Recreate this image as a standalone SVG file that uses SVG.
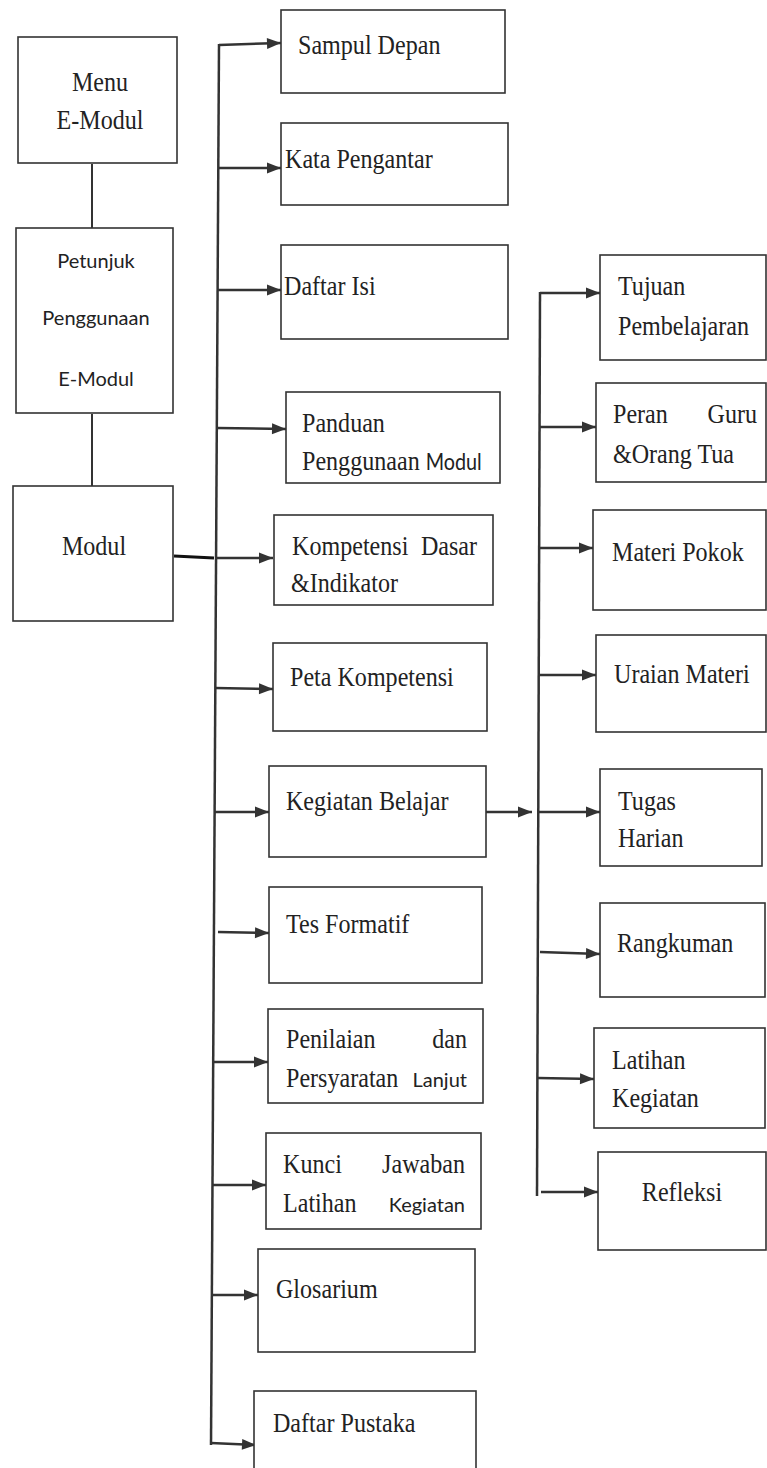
<svg xmlns="http://www.w3.org/2000/svg" width="767" height="1468" viewBox="0 0 767 1468">
<defs>
<marker id="ah" markerUnits="userSpaceOnUse" markerWidth="16" markerHeight="16" viewBox="0 0 16 16" refX="15" refY="8" orient="auto">
<path d="M1,2.5 L15,8 L1,13.5 Z" fill="#333"/>
</marker>
</defs>
<style>
rect{fill:#fff;stroke:#333;stroke-width:1.6}
text{font-family:"Liberation Serif","Times New Roman",serif;font-size:28px;fill:#222;transform-box:fill-box;transform-origin:left center;transform:scaleX(0.86)}
text.c{transform-origin:center}
text.e{transform-origin:right center}
text.s{font-family:Lato,"Liberation Sans",sans-serif;font-size:20px;transform:none}
tspan.s{font-family:Lato,"Liberation Sans",sans-serif;font-size:23px}
.c{text-anchor:middle}
.e{text-anchor:end}
#connectors line{stroke:#333;stroke-width:2.5;fill:none}
#connectors .a{marker-end:url(#ah)}
</style>
<rect x="0" y="0" width="767" height="1468" style="fill:#fff;stroke:none"/>
<g id="connectors">
<line x1="92" y1="164" x2="92" y2="228" style="stroke-width:2"/>
<line x1="92" y1="414" x2="92" y2="486" style="stroke-width:2"/>
<line x1="174" y1="556" x2="214" y2="558" style="stroke:#111;stroke-width:3"/>
<line x1="219" y1="44" x2="211" y2="1445"/>
<line class="a" x1="219" y1="45" x2="281" y2="43"/>
<line class="a" x1="219" y1="168" x2="281" y2="168"/>
<line class="a" x1="218" y1="290" x2="281" y2="290"/>
<line class="a" x1="217" y1="428" x2="286" y2="429"/>
<line class="a" x1="215" y1="558" x2="273" y2="558"/>
<line class="a" x1="215" y1="688" x2="273" y2="689"/>
<line class="a" x1="215" y1="812" x2="269" y2="812"/>
<line class="a" x1="218" y1="932" x2="269" y2="933"/>
<line class="a" x1="214" y1="1062" x2="268" y2="1062"/>
<line class="a" x1="213" y1="1185" x2="266" y2="1185"/>
<line class="a" x1="212" y1="1295" x2="258" y2="1295"/>
<line class="a" x1="211" y1="1443" x2="256" y2="1445"/>
<line class="a" x1="486" y1="812" x2="532" y2="812"/>
<line x1="540" y1="292" x2="537" y2="1196"/>
<line class="a" x1="540" y1="293" x2="600" y2="293"/>
<line class="a" x1="539" y1="427" x2="596" y2="427"/>
<line class="a" x1="539" y1="548" x2="593" y2="548"/>
<line class="a" x1="538" y1="675" x2="596" y2="675"/>
<line class="a" x1="538" y1="812" x2="600" y2="812"/>
<line class="a" x1="540" y1="952" x2="600" y2="954"/>
<line class="a" x1="538" y1="1078" x2="594" y2="1079"/>
<line class="a" x1="541" y1="1192" x2="598" y2="1192"/>
</g>
<g id="menu"><rect x="18" y="37" width="159" height="126"/><text class="c" x="100" y="91">Menu</text><text class="c" x="100" y="129">E-Modul</text></g>
<g id="petunjuk"><rect x="16" y="228" width="157" height="185"/><text class="s c" x="96" y="268">Petunjuk</text><text class="s c" x="96" y="325">Penggunaan</text><text class="s c" x="96" y="386">E-Modul</text></g>
<g id="modul"><rect x="13" y="486" width="160" height="135"/><text class="c" x="94" y="555">Modul</text></g>

<g id="sampul"><rect x="281" y="10" width="224" height="83"/><text x="298" y="54">Sampul Depan</text></g>
<g id="kata"><rect x="281" y="123" width="227" height="82"/><text x="285" y="168">Kata Pengantar</text></g>
<g id="daftarisi"><rect x="281" y="245" width="227" height="94"/><text x="284" y="295">Daftar Isi</text></g>
<g id="panduan"><rect x="286" y="392" width="214" height="91"/><text x="302" y="432">Panduan</text><text x="302" y="470">Penggunaan <tspan class="s">Modul</tspan></text></g>
<g id="kompetensi"><rect x="274" y="515" width="219" height="90"/><text x="292" y="555">Kompetensi</text><text class="e" x="477" y="555">Dasar</text><text x="291" y="592">&amp;Indikator</text></g>
<g id="peta"><rect x="273" y="643" width="214" height="88"/><text x="290" y="686">Peta Kompetensi</text></g>
<g id="kegiatan"><rect x="269" y="766" width="217" height="91"/><text x="286" y="810">Kegiatan Belajar</text></g>
<g id="tes"><rect x="269" y="887" width="213" height="96"/><text x="286" y="933">Tes Formatif</text></g>
<g id="penilaian"><rect x="268" y="1009" width="215" height="94"/><text x="286" y="1048">Penilaian</text><text class="e" x="467" y="1048">dan</text><text x="286" y="1087">Persyaratan</text><text class="s e" x="467" y="1087">Lanjut</text></g>
<g id="kunci"><rect x="266" y="1133" width="215" height="96"/><text x="283" y="1173">Kunci</text><text class="e" x="465" y="1173">Jawaban</text><text x="283" y="1212">Latihan</text><text class="s e" x="465" y="1212">Kegiatan</text></g>
<g id="glosarium"><rect x="258" y="1249" width="217" height="103"/><text x="276" y="1298">Glosarium</text></g>
<g id="pustaka"><rect x="254" y="1391" width="222" height="90"/><text x="273" y="1432">Daftar Pustaka</text></g>

<g id="tujuan"><rect x="600" y="255" width="166" height="105"/><text x="618" y="295">Tujuan</text><text x="618" y="335">Pembelajaran</text></g>
<g id="peran"><rect x="596" y="383" width="170" height="99"/><text x="613" y="423">Peran</text><text class="e" x="757" y="423">Guru</text><text x="613" y="463">&amp;Orang Tua</text></g>
<g id="materi"><rect x="593" y="510" width="173" height="100"/><text x="612" y="561">Materi Pokok</text></g>
<g id="uraian"><rect x="596" y="635" width="170" height="97"/><text x="614" y="683">Uraian Materi</text></g>
<g id="tugas"><rect x="600" y="769" width="162" height="97"/><text x="618" y="810">Tugas</text><text x="618" y="847">Harian</text></g>
<g id="rangkuman"><rect x="600" y="903" width="165" height="94"/><text x="617" y="952">Rangkuman</text></g>
<g id="latihan"><rect x="594" y="1028" width="171" height="100"/><text x="612" y="1069">Latihan</text><text x="612" y="1107">Kegiatan</text></g>
<g id="refleksi"><rect x="598" y="1152" width="168" height="98"/><text class="c" x="682" y="1201">Refleksi</text></g>
</svg>
